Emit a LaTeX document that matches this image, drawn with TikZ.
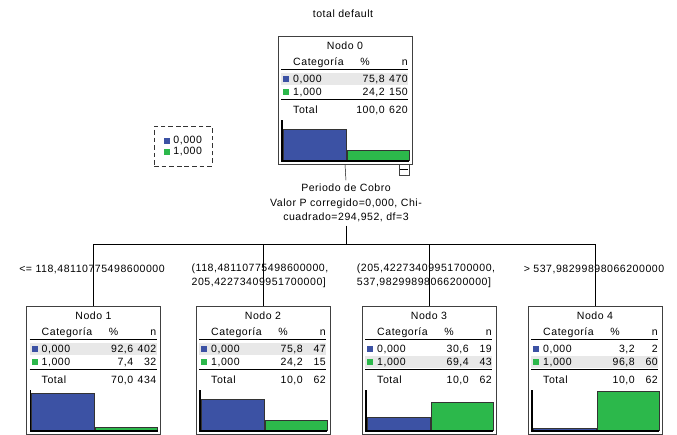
\documentclass[tikz,border=0pt]{standalone}
\usepackage{fontspec}
\setmainfont{Liberation Sans}[LetterSpace=5]
\definecolor{azul}{RGB}{60,82,164}
\definecolor{verde}{RGB}{44,184,75}
\definecolor{faixa}{RGB}{232,232,232}
\tikzset{
  texto/.style={font=\fontsize{9}{12.3}\selectfont, inner sep=0pt},
  caixa/.style={draw=black!75, line width=0.8pt, minimum width=4.02cm, minimum height=3.84cm, inner sep=0pt},
  barra/.style={draw=black!80, line width=0.6pt},
  legenda/.style={texto, draw=black!80, dashed, dash pattern=on 4pt off 2.5pt, line width=0.7pt, align=left,
    minimum width=1.74cm, minimum height=1.2cm, font=\fontsize{9}{9.4}\selectfont}
}
\newcommand{\pct}[1]{\pgfmathprintnumber[fixed,fixed zerofill,precision=1,use comma,assume math mode=true]{#1}}
\newcommand{\quadrado}[1]{\textcolor{#1}{\rule{5pt}{5pt}}}
% #1 numero, #2 centro x, #3 topo y, #4 % 0,000, #5 n 0,000, #6 % 1,000, #7 n 1,000, #8 % total
\newcommand{\nodoarvore}[8]{%
  \node[caixa, anchor=north] (nodo#1) at (#2,#3) {};
  \begin{scope}[shift={({#2-67},#3)}]
    \pgfmathsetmacro{\faixay}{ifthenelse(#4>#6,37,50)}
    \pgfmathtruncatemacro{\totaln}{#5+#7}
    \fill[faixa] (3,\faixay) rectangle ++(127,12); % linha destacada
    \node[texto, anchor=mid] at (67,10) {Nodo #1}; % titulo
    \node[texto, anchor=mid west] at (15,26) {Categoría};
    \node[texto, anchor=mid] at (87,26) {\%};
    \node[texto, anchor=mid east] at (130,26) {n};
    \draw[line width=0.8pt] (3,33) -- (130,33);
    \fill[azul] (5,40) rectangle (11,46); % 0,000
    \node[texto, anchor=mid west] at (15,43) {0,000};
    \node[texto, anchor=mid east] at (107,43) {\pct{#4}};
    \node[texto, anchor=mid east] at (130,43) {#5};
    \fill[verde] (5,53) rectangle (11,59); % 1,000
    \node[texto, anchor=mid west] at (15,56) {1,000};
    \node[texto, anchor=mid east] at (107,56) {\pct{#6}};
    \node[texto, anchor=mid east] at (130,56) {#7};
    \draw[line width=0.8pt] (3,63) -- (130,63);
    \node[texto, anchor=mid west] at (15,74) {Total}; % total
    \node[texto, anchor=mid east] at (107,74) {\pct{#8}};
    \node[texto, anchor=mid east] at (130,74) {\totaln};
    \draw[barra, fill=azul] (5,124) rectangle (68,{124-0.4*#4}); % barras
    \draw[barra, fill=verde] (69,124) rectangle (131,{124-0.4*#6});
    \draw[line width=0.9pt] (4,84) -- (4,125) -- (131,125); % eixo
  \end{scope}}

\begin{document}
\begin{tikzpicture}[x=0.03cm, y=-0.03cm]
  \useasboundingbox (0,0) rectangle (677,434); % area da figura
  \node[texto, anchor=mid] (titulo) at (343,14) {total default}; % titulo
  \nodoarvore{0}{345}{36}{75.8}{470}{24.2}{150}{100}
  \node[draw=black!75, line width=0.6pt, minimum width=0.3cm, minimum height=0.33cm, inner sep=0pt] (recolher) at (404,169.5) {}; % botao
  \draw ([xshift=1.5pt]recolher.west) -- ([xshift=-1.5pt]recolher.east);
  \node[legenda] (legenda) at (183,146) {\quadrado{azul} 0,000\\\quadrado{verde} 1,000}; % legenda
  \node[texto, align=center, inner sep=3pt] (divisao) at (346,203) {Periodo de Cobro\\Valor P corregido=0,000, Chi-\\cuadrado=294,952, df=3};
  \coordinate (juncao) at (346,244);
  \nodoarvore{1}{93.5}{306}{92.6}{402}{7.4}{32}{70}
  \nodoarvore{2}{263}{306}{75.8}{47}{24.2}{15}{10}
  \nodoarvore{3}{429}{306}{30.6}{19}{69.4}{43}{10}
  \nodoarvore{4}{595}{306}{3.2}{2}{96.8}{60}{10}
  \draw (nodo0.south) -- (divisao.north); % ligacoes
  \draw (divisao.south) -- (juncao);
  \foreach \i in {1,...,4}
    \draw (juncao) -| (nodo\i.north);
  \node[texto, anchor=mid] (rotulo1) at (92,269) {<= 118,48110775498600000}; % rotulos
  \node[texto, align=left] (rotulo2) at (260,276) {(118,48110775498600000,\\205,42273409951700000]};
  \node[texto, align=left] (rotulo3) at (426,276) {(205,42273409951700000,\\537,98299898066200000]};
  \node[texto, anchor=mid] (rotulo4) at (594,269) {> 537,98299898066200000};
\end{tikzpicture}
\end{document}
